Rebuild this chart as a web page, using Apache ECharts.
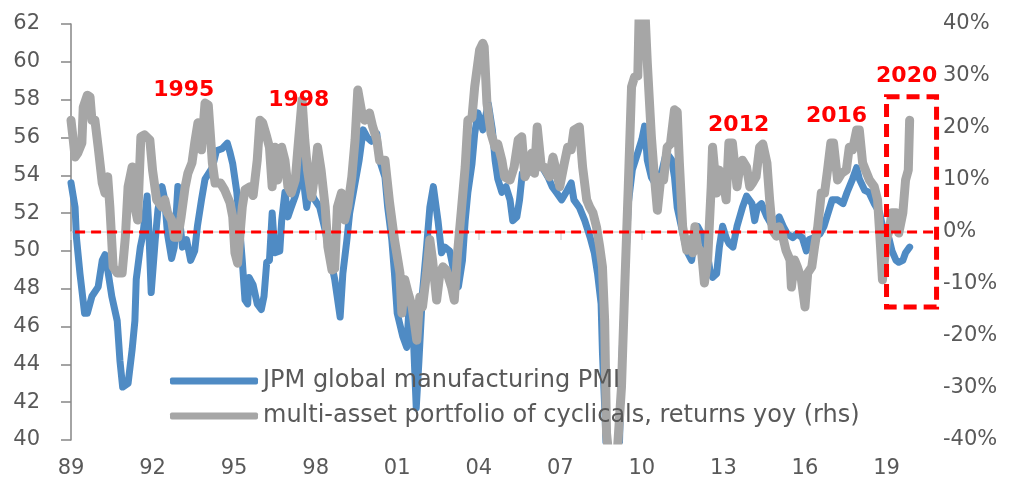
<!DOCTYPE html>
<html>
<head>
<meta charset="utf-8">
<script src="https://cdn.jsdelivr.net/npm/echarts@6/dist/echarts.min.js"></script>
<style>
  html, body { margin: 0; padding: 0; background: #fff; }
  #chart { width: 1015px; height: 482px; }
</style>
</head>
<body>
<div id="chart"></div>
<script>
// JPM global manufacturing PMI (lhs)
const pmiDates = [
  1989.0, 1989.15, 1989.2, 1989.33, 1989.5, 1989.6, 1989.77, 1990.0, 1990.15, 1990.25,
  1990.35, 1990.5, 1990.7, 1990.8, 1990.9, 1991.1, 1991.25, 1991.35, 1991.4, 1991.55,
  1991.65, 1991.8, 1991.85, 1991.95, 1992.0, 1992.1, 1992.2, 1992.35, 1992.45, 1992.55,
  1992.7, 1992.8, 1992.93, 1993.0, 1993.1, 1993.25, 1993.4, 1993.55, 1993.65, 1993.8,
  1993.93, 1994.2, 1994.35, 1994.55, 1994.75, 1994.85, 1994.95, 1995.1, 1995.2, 1995.3,
  1995.4, 1995.5, 1995.55, 1995.7, 1995.85, 1996.0, 1996.1, 1996.2, 1996.3, 1996.4,
  1996.5, 1996.68, 1996.75, 1996.87, 1996.98, 1997.1, 1997.25, 1997.35, 1997.5, 1997.6,
  1997.67, 1997.78, 1997.97, 1998.15, 1998.35, 1998.5, 1998.7, 1998.9, 1999.0, 1999.15,
  1999.25, 1999.45, 1999.6, 1999.75, 1999.9, 2000.05, 2000.25, 2000.35, 2000.55, 2000.65,
  2000.8, 2000.9, 2001.0, 2001.2, 2001.35, 2001.45, 2001.57, 2001.7, 2001.8, 2001.93,
  2002.08, 2002.2, 2002.33, 2002.5, 2002.63, 2002.75, 2002.93, 2003.1, 2003.25, 2003.4,
  2003.5, 2003.6, 2003.75, 2003.85, 2003.97, 2004.15, 2004.35, 2004.5, 2004.6, 2004.7,
  2004.85, 2005.0, 2005.15, 2005.25, 2005.4, 2005.5, 2005.6, 2005.8, 2006.0, 2006.15,
  2006.35, 2006.55, 2006.7, 2006.85, 2007.05, 2007.25, 2007.4, 2007.5, 2007.7, 2007.9,
  2008.1, 2008.25, 2008.37, 2008.5, 2008.55, 2008.65, 2008.75, 2009.0, 2009.15, 2009.25,
  2009.37, 2009.5, 2009.65, 2009.85, 2010.0, 2010.1, 2010.2, 2010.35, 2010.55, 2010.75,
  2010.9, 2011.1, 2011.2, 2011.3, 2011.45, 2011.65, 2011.83, 2011.95, 2012.05, 2012.2,
  2012.4, 2012.5, 2012.6, 2012.75, 2012.85, 2012.97, 2013.1, 2013.2, 2013.35, 2013.5,
  2013.6, 2013.7, 2013.85, 2014.05, 2014.15, 2014.25, 2014.4, 2014.6, 2014.8, 2014.95,
  2015.05, 2015.2, 2015.35, 2015.55, 2015.7, 2015.9, 2016.05, 2016.15, 2016.35, 2016.55,
  2016.7, 2016.85, 2017.0, 2017.2, 2017.4, 2017.55, 2017.75, 2017.9, 2018.0, 2018.2,
  2018.35, 2018.55, 2018.75, 2018.85, 2019.0, 2019.1, 2019.2, 2019.35, 2019.45, 2019.6,
  2019.7, 2019.85
];
const pmiValues = [
  53.6, 52.3, 50.7, 48.8, 46.7, 46.7, 47.6, 48.1, 49.5, 49.8,
  49.0, 47.6, 46.3, 44.2, 42.8, 43.0, 44.8, 46.3, 48.5, 50.2,
  50.9, 52.9, 51.6, 47.8, 47.8, 50.6, 52.2, 53.4, 52.7, 50.9,
  49.6, 50.2, 53.4, 51.6, 50.2, 50.6, 49.5, 50.0, 51.3, 52.7,
  53.8, 54.4, 55.3, 55.4, 55.7, 55.2, 54.6, 53.1, 51.3, 49.5,
  47.4, 47.2, 48.6, 48.2, 47.2, 46.9, 47.6, 49.4, 49.5, 52.0,
  49.9, 50.0, 51.6, 53.1, 51.8, 52.3, 52.9, 53.4, 54.8, 53.1,
  52.3, 53.2, 52.7, 52.3, 51.1, 49.9, 48.5, 46.5, 48.8, 50.6,
  52.0, 53.6, 54.8, 56.4, 56.0, 55.8, 56.2, 54.8, 53.9, 52.3,
  50.6, 48.8, 46.7, 45.5, 44.9, 47.4, 46.3, 41.7, 44.2, 47.8,
  50.2, 52.3, 53.4, 51.6, 49.9, 50.2, 50.0, 48.8, 48.1, 49.5,
  51.6, 53.1, 54.6, 56.2, 57.3, 56.4, 57.8, 56.4, 54.8, 53.8,
  53.1, 53.4, 52.7, 51.6, 51.8, 52.7, 54.1, 54.1, 54.4, 54.8,
  54.4, 53.9, 53.4, 53.1, 52.7, 53.2, 53.6, 52.7, 52.3, 51.6,
  50.7, 49.9, 48.8, 47.2, 44.6, 41.1, 37.0, 36.0, 38.5, 43.7,
  48.1, 52.5, 54.3, 55.2, 55.9, 56.6, 54.8, 53.9, 53.4, 54.3,
  55.2, 54.8, 53.9, 52.3, 51.3, 50.0, 49.5, 50.7, 51.3, 50.9,
  50.0, 49.0, 48.6, 48.8, 50.2, 51.3, 50.7, 50.4, 50.2, 51.3,
  51.8, 52.3, 52.9, 52.5, 51.6, 52.3, 52.5, 51.8, 51.3, 51.6,
  51.8, 51.3, 50.9, 50.7, 50.9, 50.7, 50.0, 50.6, 50.7, 50.9,
  51.3, 52.0, 52.7, 52.7, 52.5, 53.1, 53.8, 54.4, 53.8, 53.2,
  53.1, 52.5, 52.0, 51.3, 51.1, 50.6, 50.0, 49.5, 49.4, 49.5,
  49.9, 50.2
];

// multi-asset portfolio of cyclicals, returns yoy in % (rhs)
const retDates = [
  1989.0, 1989.07, 1989.15, 1989.25, 1989.4, 1989.45, 1989.6, 1989.7, 1989.77, 1989.88,
  1990.0, 1990.15, 1990.25, 1990.35, 1990.43, 1990.55, 1990.7, 1990.88, 1991.0, 1991.1,
  1991.25, 1991.35, 1991.45, 1991.57, 1991.7, 1991.9, 1992.0, 1992.15, 1992.35, 1992.45,
  1992.55, 1992.7, 1992.8, 1992.93, 1993.05, 1993.2, 1993.3, 1993.45, 1993.55, 1993.67,
  1993.8, 1993.93, 1994.05, 1994.2, 1994.3, 1994.5, 1994.65, 1994.85, 1994.95, 1995.03,
  1995.13, 1995.3, 1995.4, 1995.58, 1995.7, 1995.85, 1995.95, 1996.05, 1996.2, 1996.3,
  1996.4, 1996.5, 1996.6, 1996.75, 1996.87, 1996.98, 1997.1, 1997.25, 1997.35, 1997.5,
  1997.6, 1997.7, 1997.85, 1997.97, 1998.07, 1998.2, 1998.35, 1998.45, 1998.6, 1998.7,
  1998.8, 1998.95, 1999.07, 1999.18, 1999.33, 1999.45, 1999.55, 1999.7, 1999.8, 1999.98,
  2000.1, 2000.25, 2000.35, 2000.55, 2000.72, 2000.9, 2001.1, 2001.17, 2001.28, 2001.4,
  2001.55, 2001.72, 2001.83, 2001.93, 2002.08, 2002.2, 2002.3, 2002.45, 2002.57, 2002.68,
  2002.8, 2003.0, 2003.1, 2003.22, 2003.37, 2003.5, 2003.6, 2003.75, 2003.85, 2004.03,
  2004.15, 2004.2, 2004.3, 2004.45, 2004.6, 2004.7, 2004.85, 2004.95, 2005.15, 2005.3,
  2005.45, 2005.58, 2005.7, 2005.8, 2005.95, 2006.05, 2006.15, 2006.3, 2006.4, 2006.6,
  2006.73, 2006.87, 2006.98, 2007.15, 2007.27, 2007.4, 2007.5, 2007.7, 2007.82, 2007.97,
  2008.08, 2008.2, 2008.33, 2008.45, 2008.55, 2008.63, 2008.7, 2008.8, 2009.0, 2009.1,
  2009.25, 2009.37, 2009.5, 2009.62, 2009.73, 2009.85, 2009.9, 2010.1, 2010.2, 2010.35,
  2010.45, 2010.57, 2010.7, 2010.8, 2010.93, 2011.05, 2011.2, 2011.3, 2011.38, 2011.5,
  2011.65, 2011.75, 2011.87, 2011.95, 2012.05, 2012.2, 2012.3, 2012.42, 2012.55, 2012.6,
  2012.75, 2012.85, 2012.97, 2013.1, 2013.2, 2013.33, 2013.5, 2013.6, 2013.7, 2013.85,
  2013.97, 2014.07, 2014.2, 2014.33, 2014.45, 2014.6, 2014.7, 2014.8, 2014.95, 2015.05,
  2015.18, 2015.3, 2015.45, 2015.5, 2015.62, 2015.72, 2015.87, 2016.0, 2016.1, 2016.25,
  2016.35, 2016.47, 2016.6, 2016.72, 2016.83, 2016.95, 2017.05, 2017.2, 2017.35, 2017.52,
  2017.63, 2017.75, 2017.9, 2018.0, 2018.12, 2018.27, 2018.37, 2018.55, 2018.67, 2018.78,
  2018.85, 2019.0, 2019.1, 2019.2, 2019.35, 2019.45, 2019.6, 2019.7, 2019.8, 2019.85
];
const retValues = [
  21.5, 18.3, 14.4, 15.2, 17.1, 24.0, 26.3, 26.0, 21.5, 21.5,
  16.3, 9.4, 7.5, 10.6, 4.8, -6.7, -7.9, -7.9, -1.0, 8.7,
  12.5, 4.8, 2.3, 18.3, 18.7, 17.7, 11.9, 6.2, 4.8, 6.2,
  3.7, 2.3, -1.0, -1.0, 2.9, 8.7, 11.3, 13.3, 17.1, 21.0,
  15.8, 24.8, 24.4, 13.3, 9.4, 9.4, 8.1, 5.6, 2.9, -4.0,
  -6.0, 4.8, 8.1, 8.7, 7.0, 13.8, 21.5, 21.0, 18.3, 16.3,
  8.7, 16.3, 10.0, 16.3, 13.8, 8.7, 7.5, 10.0, 16.3, 25.4,
  17.7, 11.9, 6.7, 11.3, 16.3, 11.9, 4.8, -2.9, -7.3, -7.1,
  4.8, 7.5, 2.3, 4.8, 10.6, 17.7, 27.3, 22.9, 21.5, 22.9,
  20.2, 17.7, 13.8, 13.8, 5.6, -1.5, -7.9, -15.6, -9.2, -11.7,
  -14.4, -20.8, -12.5, -14.4, -7.9, -1.5, -5.4, -13.1, -7.9, -6.7,
  -7.3, -10.6, -13.1, -4.0, 4.8, 12.5, 21.5, 22.0, 27.9, 35.0,
  36.3, 35.6, 24.8, 19.0, 16.3, 16.9, 13.8, 10.6, 10.0, 12.5,
  17.7, 18.3, 10.6, 11.9, 15.2, 11.3, 20.2, 12.5, 12.5, 10.6,
  14.4, 11.3, 8.7, 13.3, 16.3, 15.8, 19.6, 20.2, 12.5, 6.2,
  4.8, 3.7, 1.0, -2.9, -6.7, -16.9, -38.7, -44.0, -45.0, -42.0,
  -29.8, -10.6, 8.7, 27.9, 29.8, 30.0, 42.0, 44.0, 32.5, 18.3,
  11.3, 4.2, 10.6, 10.0, 16.3, 16.9, 23.5, 23.1, 13.3, 1.0,
  -3.5, -1.5, -4.0, 1.0, -2.9, -4.0, -9.8, -5.4, 8.7, 16.3,
  7.5, 11.9, 10.6, 6.2, 17.1, 17.1, 8.7, 12.5, 13.8, 12.5,
  8.7, 9.4, 10.6, 16.3, 16.9, 13.3, 6.2, 0.4, -0.8, 1.0,
  -0.8, -3.5, -5.4, -10.6, -5.4, -6.7, -9.2, -14.4, -7.9, -6.7,
  -2.9, 1.0, 7.5, 7.5, 11.9, 17.1, 17.1, 10.0, 11.3, 11.9,
  16.3, 15.8, 19.6, 19.6, 13.3, 11.3, 10.0, 8.7, 6.2, -2.9,
  -9.2, -1.5, 0.4, 3.7, 3.7, -0.2, 3.7, 10.0, 11.9, 21.5
];

// red annotations (x in years, y on the PMI axis)
const noteLabels = ['1995', '1998', '2012', '2016', '2020'];
const noteX = [1993.15, 1997.38, 2013.56, 2017.16, 2019.74];
const noteY = [58.5, 57.98, 56.66, 57.13, 59.25];
// 50/50 line: 0% on the returns axis, dashed box round 2019-20
const zeroLine = [1989.15, 2020.84];
const boxX = [2019.0, 2020.84];
const boxY = [26, -14.4];

const seriesNames = ['JPM global manufacturing PMI', 'multi-asset portfolio of cyclicals, returns yoy (rhs)'];

const chart = echarts.init(document.getElementById('chart'));
const axisFont = { fontFamily: 'DejaVu Sans', fontSize: 21, color: '#595959' };

chart.setOption({
  animation: false,
  grid: { left: 71, right: 104, top: 24, bottom: 42, outerBoundsMode: 'none' },
  legend: {
    orient: 'vertical',
    left: 165,
    top: 364,
    itemWidth: 88,
    itemHeight: 7,
    itemGap: 11,
    textStyle: { fontFamily: 'DejaVu Sans', fontSize: 24, color: '#595959' },
    data: [
      { name: seriesNames[0], icon: 'roundRect' },
      { name: seriesNames[1], icon: 'roundRect' }
    ]
  },
  xAxis: {
    type: 'value',
    min: 1989,
    max: 2019.9,
    interval: 3,
    axisLine: { lineStyle: { color: '#d9d9d9', width: 1.5 } },
    axisTick: { length: 8, lineStyle: { color: '#d9d9d9', width: 1.5 } },
    splitLine: { show: false },
    axisLabel: Object.assign({}, axisFont, {
      margin: 18,
      showMaxLabel: false,
      formatter: v => String(Math.round(v) % 100).padStart(2, '0')
    })
  },
  yAxis: [
    {
      type: 'value',
      min: 40, max: 62, interval: 2,
      axisLine: { show: true, lineStyle: { color: '#868686', width: 1.5 } },
      axisTick: { show: true, length: 10, lineStyle: { color: '#868686', width: 1.5 } },
      splitLine: { show: false },
      axisLabel: Object.assign({}, axisFont, { margin: 31 })
    },
    {
      type: 'value',
      min: -40, max: 40, interval: 10,
      axisLine: { show: false },
      axisTick: { show: false },
      splitLine: { show: false },
      axisLabel: Object.assign({}, axisFont, { margin: 32, formatter: '{value}%' })
    }
  ],
  series: [
    {
      name: seriesNames[0],
      type: 'line',
      yAxisIndex: 0,
      showSymbol: false,
      color: '#4f8bc4',
      lineStyle: { width: 7, join: 'round', cap: 'round' },
      data: pmiDates.map((d, i) => [d, pmiValues[i]])
    },
    {
      name: seriesNames[1],
      type: 'line',
      yAxisIndex: 1,
      showSymbol: false,
      color: '#a6a6a6',
      lineStyle: { width: 9, join: 'round', cap: 'round' },
      data: retDates.map((d, i) => [d, retValues[i]])
    }
  ]
});

// annotations placed through the axes
const toPx = (x, y, yi) => chart.convertToPixel({ xAxisIndex: 0, yAxisIndex: yi }, [x, y]);
const z0 = toPx(zeroLine[0], 0, 1);
const z1 = toPx(zeroLine[1], 0, 1);
const b0 = toPx(boxX[0], boxY[0], 1);
const b1 = toPx(boxX[1], boxY[1], 1);

const graphics = [
  {
    type: 'line', z: 10,
    shape: { x1: z0[0], y1: z0[1], x2: z1[0], y2: z1[1] },
    style: { stroke: '#ff0000', lineWidth: 3, lineDash: [10, 6] }
  },
  {
    type: 'rect', z: 10,
    shape: { x: b0[0], y: b0[1], width: b1[0] - b0[0], height: b1[1] - b0[1] },
    style: { fill: 'none', stroke: '#ff0000', lineWidth: 5, lineDash: [13, 7] }
  }
];
noteLabels.forEach((t, i) => {
  const p = toPx(noteX[i], noteY[i], 0);
  graphics.push({
    type: 'text', z: 10, x: p[0], y: p[1],
    style: {
      text: t, fill: '#ff0000', fontFamily: 'DejaVu Sans', fontWeight: 'bold', fontSize: 22,
      align: 'center', verticalAlign: 'middle'
    }
  });
});
chart.setOption({ graphic: graphics });
</script>
</body>
</html>
